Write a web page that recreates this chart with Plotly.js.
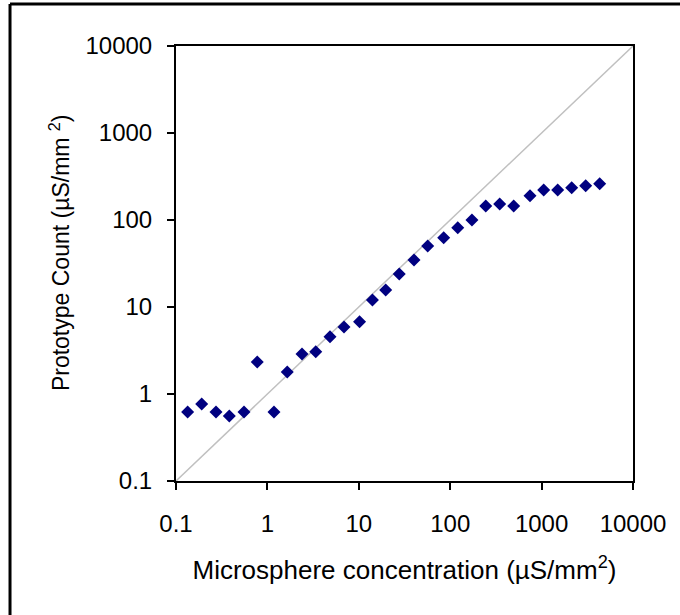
<!DOCTYPE html>
<html>
<head>
<meta charset="utf-8">
<script src="https://cdn.plot.ly/plotly-3.0.1.min.js"></script>
<style>
html,body{margin:0;padding:0;background:#fff;}
#chart{width:680px;height:615px;}
</style>
</head>
<body>
<div id="chart"></div>
<script>
// Microsphere concentration (µS/mm²)
const concentration = [0.134, 0.191, 0.274, 0.383, 0.555, 0.775, 1.18, 1.65, 2.39, 3.38,
  4.84, 6.89, 10.2, 14.1, 19.7, 27.7, 40.2, 56.7, 84.9, 121,
  173, 245, 348, 495, 747, 1054, 1500, 2134, 3036, 4323];
// Prototype Count (µS/mm²)
const prototypeCount = [0.62, 0.77, 0.62, 0.56, 0.62, 2.33, 0.62, 1.79, 2.88, 3.06,
  4.56, 5.89, 6.78, 12.0, 15.7, 23.9, 34.7, 50.2, 62.6, 81.6,
  100, 145, 153, 145, 190, 221, 221, 235, 248, 261];
// y = x reference line endpoints
const identityLine = [0.1, 10000];
const tickValues = [0.1, 1, 10, 100, 1000, 10000];
const tickLabels = ["0.1", "1", "10", "100", "1000", "10000"];
const xTitle = "Microsphere concentration (µS/mm<sup>2</sup>)";
const yTitle = "Prototype Count (µS/mm <sup>2</sup>)";

const FONT = "Liberation Sans, Arial, sans-serif";

const traces = [
  {
    x: identityLine, y: identityLine, type: "scatter", mode: "lines",
    line: {color: "#c0c0c0", width: 1.5}, hoverinfo: "skip", showlegend: false
  },
  {
    x: concentration, y: prototypeCount, type: "scatter", mode: "markers",
    marker: {symbol: "diamond", size: 10, color: "#000080", line: {width: 0}},
    showlegend: false
  }
];

const axisCommon = {
  type: "log",
  tickmode: "array",
  tickvals: tickValues,
  ticktext: tickLabels,
  showgrid: false,
  zeroline: false,
  showline: true,
  linecolor: "#000",
  linewidth: 2,
  mirror: true,
  ticks: "outside",
  ticklen: 7,
  tickwidth: 2,
  tickcolor: "#000",
  tickfont: {family: FONT, size: 24, color: "#000"}
};

const layout = {
  width: 680, height: 615,
  margin: {l: 176, r: 47, t: 46, b: 134},
  paper_bgcolor: "#fff", plot_bgcolor: "#fff",
  showlegend: false,
  xaxis: Object.assign({}, axisCommon, {
    range: [-1, 4],
    ticklabelstandoff: 13,
    title: {text: xTitle, font: {family: FONT, size: 26, color: "#000"}, standoff: 25}
  }),
  yaxis: Object.assign({}, axisCommon, {
    range: [-1, 4],
    ticklabelstandoff: 10
  }),
  annotations: [
    {text: yTitle, textangle: -90, xref: "paper", yref: "paper", x: -0.254, y: 0.526,
     xanchor: "center", yanchor: "middle", showarrow: false,
     font: {family: FONT, size: 23, color: "#000"}}
  ],
  shapes: [
    {type: "line", xref: "paper", yref: "paper", x0: -0.3632, x1: 1.2, y0: 1.0966, y1: 1.0966, line: {color: "#000", width: 3}},
    {type: "line", xref: "paper", yref: "paper", x0: -0.3632, x1: -0.3632, y0: 1.0966, y1: -0.4, line: {color: "#000", width: 3}}
  ]
};

Plotly.newPlot("chart", traces, layout, {displayModeBar: false, staticPlot: true});
</script>
</body>
</html>
